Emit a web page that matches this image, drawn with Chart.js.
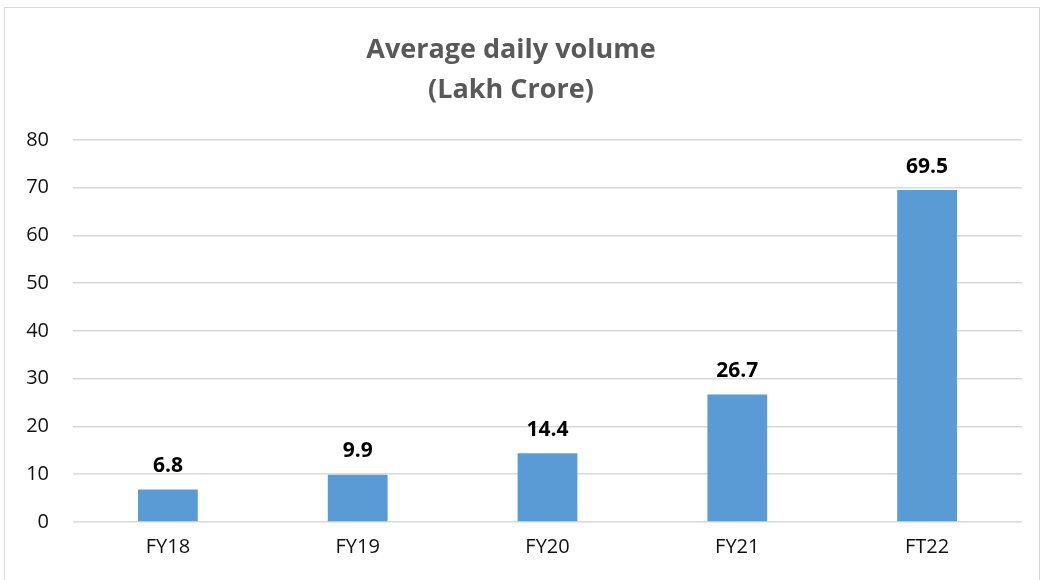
<!DOCTYPE html>
<html>
<head>
<meta charset="utf-8">
<script src="https://cdn.jsdelivr.net/npm/chart.js@4/dist/chart.umd.min.js"></script>
<style>
  html, body { margin: 0; padding: 0; background: #fff; }
  #wrap { position: relative; width: 1042px; height: 580px; }
</style>
</head>
<body>
<div id="wrap"><canvas id="volChart"></canvas></div>
<script>
// ─── DATA ─────────────────────────────────────────────────────────────
const years = ['FY18', 'FY19', 'FY20', 'FY21', 'FT22'];
const avgVolume = [6.8, 9.9, 14.4, 26.7, 69.5];
const titleLines = ['Average daily volume', '(Lakh Crore)'];

const FONT = "'Open Sans', 'Noto Sans', sans-serif";

// marco gris alrededor del gráfico
const framePlugin = {
    id: 'frame',
    beforeDraw(chart) {
        const c = chart.ctx;
        c.save();
        c.fillStyle = '#fff';
        c.fillRect(0, 0, chart.width, chart.height);
        c.strokeStyle = '#d9d9d9';
        c.lineWidth = 1;
        c.strokeRect(4.5, 7.5, 1035, 580);
        c.restore();
    }
};

// etiquetas de valor arriba de cada barra
const valueLabels = {
    id: 'valueLabels',
    afterDatasetsDraw(chart) {
        const c = chart.ctx;
        const meta = chart.getDatasetMeta(0);
        c.save();
        c.font = `bold 21px ${FONT}`;
        c.fillStyle = '#000';
        c.textAlign = 'center';
        c.textBaseline = 'bottom';
        meta.data.forEach((bar, i) => {
            c.fillText(avgVolume[i].toFixed(1), bar.x, bar.y - 13);
        });
        c.restore();
    }
};

new Chart(document.getElementById('volChart'), {
    type: 'bar',
    data: {
        labels: years,
        datasets: [{
            data: avgVolume,
            backgroundColor: '#5b9bd5',
            borderWidth: 0,
            categoryPercentage: 1,
            barPercentage: 0.315
        }]
    },
    options: {
        responsive: true,
        maintainAspectRatio: false,
        animation: false,
        layout: { padding: { left: 0, right: 20, top: 0, bottom: 0 } },
        plugins: {
            legend: { display: false },
            tooltip: { enabled: false },
            title: {
                display: true,
                text: titleLines,
                color: '#595959',
                font: { family: FONT, size: 27, weight: 'bold', lineHeight: 1.48 },
                padding: { top: 30, bottom: 30 }
            }
        },
        scales: {
            y: {
                min: 0,
                max: 80,
                ticks: { stepSize: 10, color: '#111', font: { family: FONT, size: 20 }, padding: 24 },
                grid: { color: '#d9d9d9', lineWidth: 1.5, drawTicks: false },
                border: { display: false },
                afterFit(scale) { scale.width = 73; }
            },
            x: {
                ticks: { color: '#111', font: { family: FONT, size: 20 }, padding: 13 },
                grid: { display: false, drawTicks: false },
                border: { display: false },
                afterFit(scale) { scale.height = 58; }
            }
        }
    },
    plugins: [framePlugin, valueLabels]
});
</script>
</body>
</html>
